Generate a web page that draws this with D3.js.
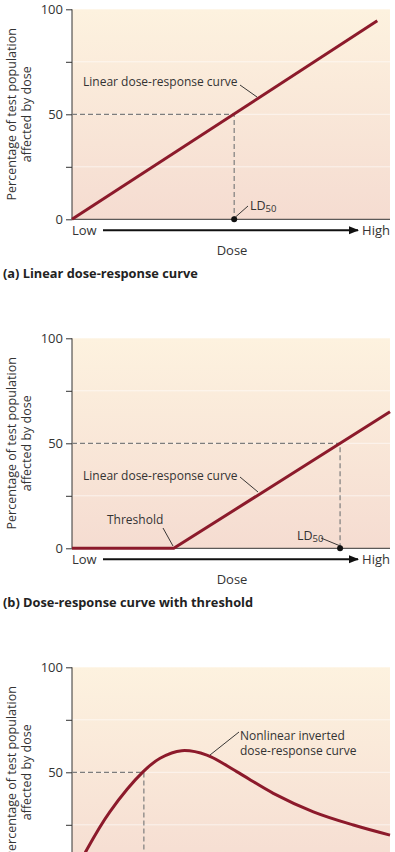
<!DOCTYPE html>
<html>
<head>
<meta charset="utf-8">
<script src="https://cdn.jsdelivr.net/npm/d3@7"></script>
<style>
  body { margin: 0; background: #fff; }
  svg { display: block; font-family: "Open Sans", sans-serif; }
</style>
</head>
<body>
<svg width="395" height="852"></svg>
<script>
// values (dose 0-100, response % 0-100)
var yTicks = [0, 25, 50, 75, 100];
var yTickLabels = ["0", "", "50", "", "100"];
var panelTitles = ["(a) Linear dose-response curve",
                   "(b) Dose-response curve with threshold",
                   "(c) Nonlinear inverted dose-response curve"];
var curveA = [[0, 0], [96, 94.5]];
var curveB = [[0, 0], [32, 0], [100, 65]];
var curveC = [[1, 2], [4.6, 13], [11.9, 31.2], [22.4, 50.3], [27.7, 56.7], [34.5, 60.3],
              [42.4, 58.2], [51.8, 50.3], [63.3, 40], [75.9, 31.2], [88.5, 24.9], [100, 20.1]];
var ld50 = [51, 84.3, 22.6];

var svg = d3.select("svg");
var red = "#8c1a2b";

var defs = svg.append("defs");
var grad = defs.append("linearGradient")
    .attr("id", "bg").attr("x1", 0).attr("y1", 0).attr("x2", 0).attr("y2", 1);
grad.append("stop").attr("offset", "0%").attr("stop-color", "#fdf2df");
grad.append("stop").attr("offset", "100%").attr("stop-color", "#f5dcd1");

defs.append("marker")
    .attr("id", "arrow")
    .attr("viewBox", "0 0 10 10")
    .attr("refX", 9).attr("refY", 5)
    .attr("markerWidth", 5).attr("markerHeight", 5)
    .attr("orient", "auto")
    .attr("markerUnits", "strokeWidth")
  .append("path")
    .attr("d", "M0,1L10,5L0,9z")
    .attr("fill", "#111");

var x = d3.scaleLinear().domain([0, 100]).range([72, 390]);

function panel(top, curve, ld, title, curveType) {
  var y = d3.scaleLinear().domain([0, 100]).range([top + 210, top]);
  var g = svg.append("g");

  g.append("rect")
      .attr("x", x(0)).attr("y", y(100))
      .attr("width", x(100) - x(0)).attr("height", y(0) - y(100))
      .attr("fill", "url(#bg)");

  g.selectAll(".grid")
    .data([25, 50, 75])
    .enter().append("line")
      .attr("x1", x(0)).attr("x2", x(100))
      .attr("y1", function(d) { return y(d); })
      .attr("y2", function(d) { return y(d); })
      .attr("stroke", "#fff").attr("stroke-opacity", 0.6);

  var yAxis = d3.axisLeft(y).tickValues(yTicks).tickSize(6).tickPadding(3)
      .tickFormat(function(d, i) { return yTickLabels[i]; });
  var ya = g.append("g").attr("transform", "translate(" + x(0) + ",0)").call(yAxis);
  ya.select(".domain").attr("stroke", "#333").attr("d", "M0," + y(100) + "V" + y(0));
  ya.selectAll(".tick line").attr("stroke", "#333");
  ya.selectAll(".tick text").attr("font-size", 13).attr("fill", "#333")
      .attr("font-family", "Open Sans, sans-serif");

  g.append("line")
      .attr("x1", x(0)).attr("x2", x(100))
      .attr("y1", y(0)).attr("y2", y(0))
      .attr("stroke", "#333");

  // dashed guide to LD50
  var v50 = y(50), xl = x(ld);
  g.append("path")
      .attr("d", "M" + x(0) + "," + v50 + "H" + xl + "V" + y(0))
      .attr("fill", "none").attr("stroke", "#7d7d7d")
      .attr("stroke-width", 1.2).attr("stroke-dasharray", "5,3");

  var line = d3.line()
      .x(function(d) { return x(d[0]); })
      .y(function(d) { return y(d[1]); })
      .curve(curveType);
  g.append("path")
      .datum(curve)
      .attr("d", line)
      .attr("fill", "none").attr("stroke", red).attr("stroke-width", 3);

  // y axis title
  var yt = g.append("text")
      .attr("transform", "translate(16," + (top + 105) + ") rotate(-90)")
      .attr("text-anchor", "middle").attr("font-size", 12.5).attr("fill", "#333");
  yt.append("tspan").attr("x", 0).attr("dy", 0).text("Percentage of test population");
  yt.append("tspan").attr("x", 0).attr("dy", 14.5).text("affected by dose");

  // dose axis
  var ab = y(0) + 16;
  g.append("text").attr("x", x(0)).attr("y", ab)
      .attr("font-size", 13).attr("fill", "#333").text("Low");
  g.append("text").attr("x", x(100)).attr("y", ab).attr("text-anchor", "end")
      .attr("font-size", 13).attr("fill", "#333").text("High");
  g.append("line")
      .attr("x1", 103).attr("x2", 358)
      .attr("y1", ab - 5).attr("y2", ab - 5)
      .attr("stroke", "#111").attr("stroke-width", 2)
      .attr("marker-end", "url(#arrow)");
  g.append("text").attr("x", 232).attr("y", y(0) + 36).attr("text-anchor", "middle")
      .attr("font-size", 13).attr("fill", "#333").text("Dose");

  g.append("text").attr("x", 3).attr("y", y(0) + 59)
      .attr("font-size", 12.8).attr("font-weight", "bold").attr("fill", "#222").text(title);

  return { g: g, y: y };
}

function note(g, lines, tx, ty, x1, y1, x2, y2, size) {
  var t = g.append("text").attr("font-size", size || 12).attr("fill", "#333");
  lines.forEach(function(s, i) {
    t.append("tspan").attr("x", tx).attr("y", ty + i * 15).text(s);
  });
  g.append("line").attr("x1", x1).attr("y1", y1).attr("x2", x2).attr("y2", y2)
      .attr("stroke", "#222").attr("stroke-width", 0.9);
}

function ldLabel(g, y, ld, tx, ty, x1, y1) {
  var t = g.append("text").attr("x", tx).attr("y", ty)
      .attr("font-size", 12.5).attr("fill", "#333");
  t.append("tspan").text("LD");
  t.append("tspan").attr("font-size", 9.5).attr("dy", 2).text("50");
  g.append("line").attr("x1", x1).attr("y1", y1)
      .attr("x2", x(ld) + 1).attr("y2", y(0) - 2)
      .attr("stroke", "#222").attr("stroke-width", 0.9);
  g.append("circle").attr("cx", x(ld)).attr("cy", y(0)).attr("r", 3).attr("fill", "#111");
}

// (a)
var pa = panel(9.3, curveA, ld50[0], panelTitles[0], d3.curveLinear);
note(pa.g, ["Linear dose-response curve"], 83, 86, 240, 85, 257, 97);
ldLabel(pa.g, pa.y, ld50[0], 250, 210, 248, 206);

// (b)
var pb = panel(338.3, curveB, ld50[1], panelTitles[1], d3.curveLinear);
note(pb.g, ["Linear dose-response curve"], 83, 480, 240, 477, 258, 492);
note(pb.g, ["Threshold"], 107, 524, 163, 528, 173, 546);
ldLabel(pb.g, pb.y, ld50[1], 297, 540, 321, 538);

// (c)
var pc = panel(667.3, curveC, ld50[2], panelTitles[2], d3.curveCatmullRom.alpha(0.5));
note(pc.g, ["Nonlinear inverted", "dose-response curve"], 240, 740, 239, 732, 210, 755);
</script>
</body>
</html>
